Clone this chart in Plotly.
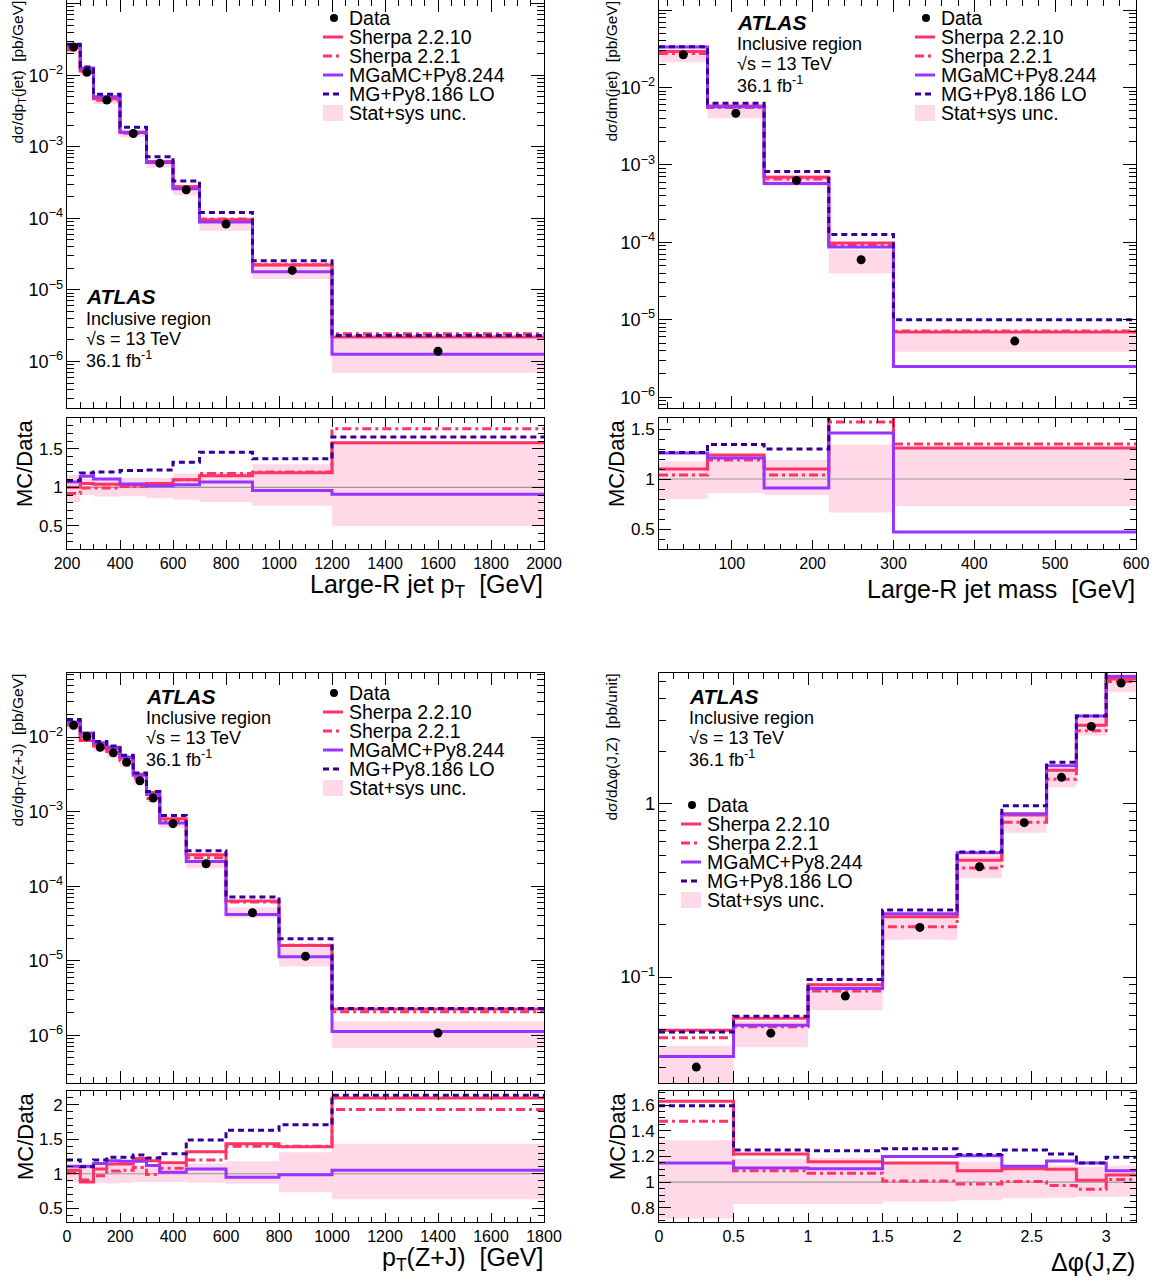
import plotly.graph_objects as go

W, H = 1163, 1283
FONT = "Liberation Sans, Arial, Helvetica, sans-serif"
NB = "\u00a0"

# ---------------- data: Large-R jet pT ----------------
edges_pt = [200, 250, 300, 400, 500, 600, 700, 900, 1200, 2000]
data_pt = [2.47e-2, 1.10e-2, 4.5e-3, 1.53e-3, 5.9e-4, 2.5e-4, 8.3e-5, 1.87e-5, 1.39e-6]
r_s2210_pt = [1.00, 1.05, 1.04, 1.03, 1.05, 1.10, 1.15, 1.19, 1.58]
r_s221_pt = [0.92, 0.99, 0.99, 1.01, 1.04, 1.10, 1.18, 1.20, 1.76]
r_mgamc_pt = [1.07, 1.145, 1.11, 1.045, 1.02, 1.035, 1.07, 0.96, 0.91]
r_mglo_pt = [1.09, 1.185, 1.20, 1.22, 1.225, 1.325, 1.455, 1.37, 1.655]
unc_lo_pt = [0.81, 0.90, 0.88, 0.885, 0.86, 0.84, 0.81, 0.76, 0.50]
unc_hi_pt = [1.16, 1.11, 1.115, 1.12, 1.12, 1.18, 1.20, 1.30, 1.60]

# ---------------- data: Large-R jet mass ----------------
edges_m = [10, 70, 140, 220, 300, 600]
data_m = [2.65e-2, 4.65e-3, 6.3e-4, 5.95e-5, 5.3e-6]
r_s2210_m = [1.10, 1.24, 1.10, 1.65, 1.31]
r_s221_m = [1.04, 1.19, 1.04, 1.57, 1.35]
r_mgamc_m = [1.26, 1.21, 0.91, 1.46, 0.47]
r_mglo_m = [1.265, 1.345, 1.30, 2.12, 1.89]
unc_lo_m = [0.80, 0.86, 0.84, 0.665, 0.73]
unc_hi_m = [1.175, 1.23, 1.19, 1.345, 1.31]

# ---------------- data: pT(Z+J) ----------------
edges_zj = [0, 50, 100, 150, 200, 250, 300, 350, 450, 600, 800, 1000, 1800]
data_zj = [1.44e-2, 1.02e-2, 7.3e-3, 6.15e-3, 4.6e-3, 2.6e-3, 1.52e-3, 6.9e-4, 2.0e-4, 4.4e-5, 1.15e-5, 1.07e-6]
r_s2210_zj = [1.05, 0.88, 1.07, 1.14, 1.14, 1.22, 1.19, 1.16, 1.32, 1.435, 1.39, 2.10]
r_s221_zj = [1.01, 0.91, 0.97, 1.04, 1.05, 1.09, 0.99, 1.08, 1.20, 1.40, 1.40, 1.93]
r_mgamc_zj = [1.11, 1.11, 1.15, 1.19, 1.18, 1.18, 1.12, 1.02, 1.07, 0.95, 0.985, 1.05]
r_mglo_zj = [1.20, 1.10, 1.20, 1.24, 1.24, 1.27, 1.23, 1.29, 1.49, 1.63, 1.71, 2.14]
unc_lo_zj = [0.88, 0.87, 0.87, 0.86, 0.87, 0.88, 0.88, 0.88, 0.87, 0.855, 0.73, 0.63]
unc_hi_zj = [1.12, 1.10, 1.12, 1.13, 1.13, 1.13, 1.12, 1.13, 1.15, 1.18, 1.31, 1.435]

# ---------------- data: delta phi(J,Z) ----------------
edges_dphi = [0, 0.5, 1.0, 1.5, 2.0, 2.3, 2.6, 2.8, 3.0, 3.2]
data_dphi = [0.0303, 0.0475, 0.0777, 0.193, 0.431, 0.774, 1.41, 2.77, 4.92]
r_s2210_dphi = [1.63, 1.22, 1.16, 1.15, 1.09, 1.105, 1.10, 1.015, 1.055]
r_s221_dphi = [1.475, 1.09, 1.07, 1.01, 0.985, 1.005, 0.975, 0.945, 1.02]
r_mgamc_dphi = [1.15, 1.11, 1.105, 1.20, 1.205, 1.125, 1.165, 1.15, 1.09]
r_mglo_dphi = [1.595, 1.25, 1.245, 1.26, 1.215, 1.25, 1.22, 1.15, 1.195]
unc_lo_dphi = [0.717, 0.83, 0.83, 0.85, 0.86, 0.873, 0.878, 0.886, 0.886]
unc_hi_dphi = [1.327, 1.18, 1.19, 1.15, 1.16, 1.125, 1.13, 1.12, 1.13]

legend_labels = ["Data", "Sherpa 2.2.10", "Sherpa 2.2.1", "MGaMC+Py8.244", "MG+Py8.186 LO", "Stat+sys unc."]

COL_SH = "#ff3366"
COL_MGAMC = "#9933ff"
COL_MGLO = "#330099"
COL_BAND = "#ffd9e8"
DASH_S221 = "9px,4px,3px,4px"
DASH_MGLO = "6px,4px"

styles = [
    ("s2210", COL_SH, "solid"),
    ("s221", COL_SH, DASH_S221),
    ("mgamc", COL_MGAMC, "solid"),
    ("mglo", COL_MGLO, DASH_MGLO),
]


def px(x):
    return x / W


def py(y):
    return 1 - y / H


def step(edges, vals):
    return list(edges), list(vals) + [vals[-1]]


def centers(edges):
    return [(a + b) / 2 for a, b in zip(edges[:-1], edges[1:])]


panels = [
    dict(edges=edges_pt, data=data_pt,
         ratios=dict(s2210=r_s2210_pt, s221=r_s221_pt, mgamc=r_mgamc_pt, mglo=r_mglo_pt),
         lo=unc_lo_pt, hi=unc_hi_pt, ax=("", "2"),
         xdom=(67, 544), main_y=(0, 408), ratio_y=(418, 549),
         yrange=[-6.65, -0.95], rrange=[0.2, 1.9], rdtick=0.5, rminor=0.1,
         xdtick=200, xminor=50),
    dict(edges=edges_m, data=data_m,
         ratios=dict(s2210=r_s2210_m, s221=r_s221_m, mgamc=r_mgamc_m, mglo=r_mglo_m),
         lo=unc_lo_m, hi=unc_hi_m, ax=("3", "4"),
         xdom=(659, 1136), main_y=(0, 408), ratio_y=(418, 549),
         yrange=[-6.14, -0.87], rrange=[0.3, 1.61], rdtick=0.5, rminor=0.1,
         xdtick=100, xminor=20),
    dict(edges=edges_zj, data=data_zj,
         ratios=dict(s2210=r_s2210_zj, s221=r_s221_zj, mgamc=r_mgamc_zj, mglo=r_mglo_zj),
         lo=unc_lo_zj, hi=unc_hi_zj, ax=("5", "6"),
         xdom=(67, 544), main_y=(673, 1083), ratio_y=(1091, 1222),
         yrange=[-6.64, -1.14], rrange=[0.3, 2.2], rdtick=0.5, rminor=0.1,
         xdtick=200, xminor=50),
    dict(edges=edges_dphi, data=data_dphi,
         ratios=dict(s2210=r_s2210_dphi, s221=r_s221_dphi, mgamc=r_mgamc_dphi, mglo=r_mglo_dphi),
         lo=unc_lo_dphi, hi=unc_hi_dphi, ax=("7", "8"),
         xdom=(659, 1136), main_y=(673, 1083), ratio_y=(1091, 1222),
         yrange=[-1.61, 0.75], rrange=[0.69, 1.71], rdtick=0.2, rminor=0.05,
         xdtick=0.5, xminor=0.1),
]

fig = go.Figure()
layout = {}

for p in panels:
    ma, ra = p["ax"]
    xm, ym = "x" + ma, "y" + ma
    xr, yr = "x" + ra, "y" + ra
    edges, data = p["edges"], p["data"]
    # ---- main panel ----
    band_lo = [d * l for d, l in zip(data, p["lo"])]
    band_hi = [d * h for d, h in zip(data, p["hi"])]
    ex, ey = step(edges, band_lo)
    fig.add_trace(go.Scatter(x=ex, y=ey, mode="lines", line=dict(width=0, shape="hv"),
                             xaxis=xm, yaxis=ym, hoverinfo="skip"))
    ex, ey = step(edges, band_hi)
    fig.add_trace(go.Scatter(x=ex, y=ey, mode="lines", line=dict(width=0, shape="hv"),
                             fill="tonexty", fillcolor=COL_BAND, xaxis=xm, yaxis=ym, hoverinfo="skip"))
    for key, col, dash in styles:
        vals = [d * r for d, r in zip(data, p["ratios"][key])]
        ex, ey = step(edges, vals)
        fig.add_trace(go.Scatter(x=ex, y=ey, mode="lines",
                                 line=dict(color=col, width=3, dash=dash, shape="hv"),
                                 xaxis=xm, yaxis=ym))
    fig.add_trace(go.Scatter(x=centers(edges), y=data, mode="markers",
                             marker=dict(color="black", size=9), xaxis=xm, yaxis=ym))
    # ---- ratio panel ----
    ex, ey = step(edges, p["lo"])
    fig.add_trace(go.Scatter(x=ex, y=ey, mode="lines", line=dict(width=0, shape="hv"),
                             xaxis=xr, yaxis=yr, hoverinfo="skip"))
    ex, ey = step(edges, p["hi"])
    fig.add_trace(go.Scatter(x=ex, y=ey, mode="lines", line=dict(width=0, shape="hv"),
                             fill="tonexty", fillcolor=COL_BAND, xaxis=xr, yaxis=yr, hoverinfo="skip"))
    fig.add_trace(go.Scatter(x=[edges[0], edges[-1]], y=[1, 1], mode="lines",
                             line=dict(color="#999999", width=1.2), xaxis=xr, yaxis=yr))
    for key, col, dash in styles:
        ex, ey = step(edges, p["ratios"][key])
        fig.add_trace(go.Scatter(x=ex, y=ey, mode="lines",
                                 line=dict(color=col, width=3, dash=dash, shape="hv"),
                                 xaxis=xr, yaxis=yr))

    xd = [px(p["xdom"][0]), px(p["xdom"][1])]
    common = dict(showline=True, linecolor="black", linewidth=1, mirror="allticks",
                  ticks="inside", tickcolor="black", showgrid=False, zeroline=False,
                  automargin=False,
                  tickfont=dict(size=16, family=FONT, color="black"))
    xrng = [edges[0], edges[-1]]
    layout["xaxis" + ma] = dict(domain=xd, anchor=ym, range=xrng, dtick=p["xdtick"], tick0=0,
                                ticklen=12, showticklabels=False,
                                minor=dict(ticks="inside", ticklen=6, dtick=p["xminor"], tickcolor="black", showgrid=False),
                                **common)
    layout["yaxis" + ma] = dict(domain=[py(p["main_y"][1]), py(p["main_y"][0])], anchor=xm, type="log",
                                range=p["yrange"], dtick=1, exponentformat="power", ticklen=13,
                                minor=dict(ticks="inside", ticklen=7, dtick="D1", tickcolor="black", showgrid=False),
                                **{**common, "tickfont": dict(size=14.5, family=FONT, color="black")})
    layout["xaxis" + ra] = dict(domain=xd, anchor=yr, range=xrng, dtick=p["xdtick"], tick0=0,
                                ticklen=9,
                                minor=dict(ticks="inside", ticklen=5, dtick=p["xminor"], tickcolor="black", showgrid=False),
                                **common)
    layout["yaxis" + ra] = dict(domain=[py(p["ratio_y"][1]), py(p["ratio_y"][0])], anchor=xr,
                                range=p["rrange"], dtick=p["rdtick"], tick0=0, ticklen=12,
                                minor=dict(ticks="inside", ticklen=6, dtick=p["rminor"], tickcolor="black", showgrid=False),
                                **{**common, "tickfont": dict(size=17, family=FONT, color="black")})

fig.update_layout(**layout)
fig.update_layout(width=W, height=H, autosize=False, showlegend=False,
                  margin=dict(l=0, r=0, t=0, b=0, pad=0),
                  paper_bgcolor="white", plot_bgcolor="white",
                  font=dict(family=FONT, color="black"))


def text(x, y, s, size, xanchor="left", angle=0, yanchor="middle"):
    fig.add_annotation(xref="paper", yref="paper", x=px(x), y=py(y), text=s, showarrow=False,
                       xanchor=xanchor, yanchor=yanchor, textangle=angle, borderpad=0,
                       font=dict(size=size, family=FONT, color="black"))


# ATLAS labels
atlas_pos = [(85, 297), (736, 22), (145, 696), (688, 696)]
for x0, y0 in atlas_pos:
    text(x0, y0, "<b><i>ATLAS</i></b>", 21)
    text(x0, y0 + 22, "Inclusive region", 18)
    text(x0, y0 + 42, "√s = 13 TeV", 18)
    text(x0, y0 + 62, "36.1 fb<sup>-1</sup>", 18)

# Legends
legend_pos = [(348, 18), (940, 18), (348, 693), (706, 805)]
row_dy = 19
for tx, ty in legend_pos:
    sx0, sx1 = tx - 25, tx - 5
    for i, lab in enumerate(legend_labels):
        yy = ty + i * row_dy
        text(tx, yy, lab, 19.5)
        if i == 0:
            cx = tx - 14
            fig.add_shape(type="circle", xref="paper", yref="paper",
                          x0=px(cx - 4), x1=px(cx + 4), y0=py(yy + 4), y1=py(yy - 4),
                          fillcolor="black", line=dict(width=0))
        elif i == 5:
            fig.add_shape(type="rect", xref="paper", yref="paper",
                          x0=px(sx0), x1=px(sx1), y0=py(yy + 8), y1=py(yy - 8),
                          fillcolor=COL_BAND, line=dict(width=0))
        else:
            _, col, dash = styles[i - 1]
            fig.add_shape(type="line", xref="paper", yref="paper",
                          x0=px(sx0), x1=px(sx1), y0=py(yy), y1=py(yy),
                          line=dict(color=col, width=3, dash=dash))

# Y titles (main)
text(18, 0, "dσ/dp<sub>T</sub>(jet)" + NB + NB + "[pb/GeV]", 15.5, xanchor="center", angle=-90, yanchor="top")
text(611, 0, "dσ/dm(jet)" + NB + NB + "[pb/GeV]", 15.5, xanchor="center", angle=-90, yanchor="top")
text(18, 673, "dσ/dp<sub>T</sub>(Z+J)" + NB + NB + "[pb/GeV]", 15.5, xanchor="center", angle=-90, yanchor="top")
text(611, 673, "dσ/dΔφ(J,Z)" + NB + NB + "[pb/unit]", 15.5, xanchor="center", angle=-90, yanchor="top")

# Y titles (ratio)
for x0, y0 in [(25, 418), (617, 418), (25, 1091), (617, 1091)]:
    text(x0, y0, "MC/Data", 22, xanchor="center", angle=-90, yanchor="top")

# X titles
text(544, 586, "Large-R jet p<sub>T</sub>" + NB + NB + "[GeV]", 25, xanchor="right")
text(1136, 589, "Large-R jet mass" + NB + NB + "[GeV]", 25, xanchor="right")
text(544, 1259, "p<sub>T</sub>(Z+J)" + NB + NB + "[GeV]", 25, xanchor="right")
text(1136, 1262, "Δφ(J,Z)", 25, xanchor="right")

fig.write_html("out.html", config={"displayModeBar": False},
               post_script="document.body.style.margin='0';document.body.style.padding='0';")
